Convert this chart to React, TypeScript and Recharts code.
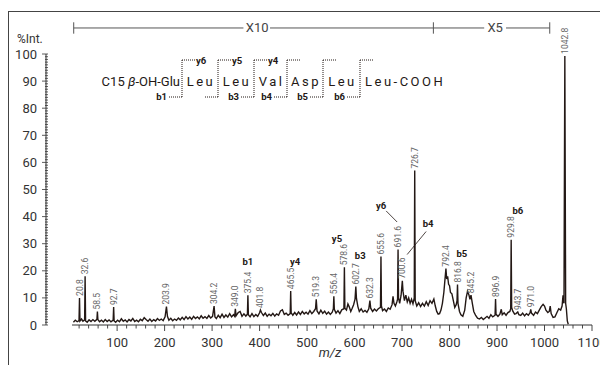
import React from 'react';
import { ComposedChart, Line, Scatter, XAxis, YAxis, ReferenceLine, ReferenceDot } from 'recharts';

const FONT = 'Roboto, "Noto Sans", Arial, sans-serif';
const INK = '#231815';

// spectrum trace, [m/z, %Int.]
const spectrumLow = [
  [8, 1.0], [12, 1.8], [16, 1.2], [19.8, 1.6], [20.8, 10.0], [21.8, 1.5], [25, 2.2], [28, 1.4], [31.6, 1.9],
  [32.6, 18.0], [33.6, 1.5], [37, 1.0], [41, 1.9], [45, 1.3], [49, 2.0], [53, 1.4], [57.5, 2.1], [58.5, 5.0],
  [59.5, 2.0], [63, 1.2], [67, 1.8], [71, 1.1], [75, 2.0], [79, 1.3], [83, 1.9], [87, 1.2], [91.7, 1.8],
  [92.7, 6.6], [93.7, 1.5], [97, 1.0], [101, 1.8], [105, 1.2], [109, 2.3], [113, 1.4], [117, 1.9], [121, 1.1],
  [125, 2.0], [129, 1.5], [133, 2.4], [137, 1.3], [141, 1.8], [145, 1.2], [149, 2.1], [153, 1.6], [157, 2.7],
  [161, 2.0], [165, 1.4], [169, 2.2], [173, 1.3], [177, 2.0], [181, 1.5], [185, 2.4], [189, 1.7], [193, 2.2],
  [197, 1.6], [201, 3.0], [203.9, 6.8], [206, 3.2], [209, 1.8],
];

const spectrumMid = [
  [213, 2.5], [217, 1.6], [221, 2.2], [225, 1.7], [229, 2.6], [233, 1.9], [237, 2.8], [241, 2.0], [245, 3.1],
  [249, 2.2], [253, 2.9], [257, 2.1], [261, 3.2], [265, 2.4], [269, 3.0], [273, 2.3], [277, 3.4], [281, 2.5],
  [285, 3.1], [289, 2.4], [293, 3.5], [297, 2.6], [301, 3.2], [304.2, 7.0], [306, 3.0], [309, 2.4], [313, 3.6],
  [317, 2.7], [321, 4.0], [325, 2.8], [329, 3.7], [333, 2.9], [337, 4.2], [341, 3.0], [345, 3.8], [347.5, 3.2],
  [349, 6.0], [350.5, 3.4], [355, 4.6], [359, 5.0], [363, 3.2], [367, 4.1], [371, 3.3], [374.4, 4.0], [375.4, 11.0],
  [376.4, 3.8], [380, 3.0], [384, 4.2], [388, 3.1], [392, 3.9], [396, 3.2], [400, 4.5], [401.8, 5.5], [404, 4.6],
  [408, 3.5], [412, 4.4], [416, 3.2], [420, 4.0], [424, 3.4], [428, 4.3], [432, 3.3], [436, 4.1], [440, 3.6],
  [444, 5.2], [448, 5.6], [452, 3.9], [456, 4.4], [460, 3.6], [464.5, 4.2], [465.5, 12.5], [466.5, 4.5], [470, 3.6],
  [474, 4.6], [478, 3.7], [482, 4.8], [486, 3.9], [490, 5.0], [494, 4.1], [498, 4.7],
];

const spectrumHigh = [
  [502, 4.0], [506, 5.3], [510, 4.2], [514, 5.0], [517.8, 6.0], [519.3, 9.5], [521, 5.2], [525, 4.1], [529, 5.5],
  [533, 4.3], [537, 5.1], [541, 4.0], [545, 4.8], [549, 3.9], [553, 4.7], [555.4, 6.0], [556.4, 10.6], [557.4, 5.8],
  [561, 4.4], [565, 5.3], [569, 4.2], [573, 5.6], [577.6, 6.0], [578.6, 21.3], [579.6, 6.2], [583, 5.5], [586, 7.8],
  [589, 6.6], [592, 5.0], [595, 6.2], [598, 7.5], [601, 9.5], [602.7, 14.2], [604, 9.8], [607, 6.8], [610, 5.0],
  [614, 6.0], [618, 4.8], [622, 5.4], [626, 4.7], [630, 6.0], [632.3, 9.0], [634, 6.2], [638, 5.0], [642, 5.9],
  [646, 5.2], [650, 6.0], [654.6, 6.5], [655.6, 25.3], [656.6, 7.0], [659, 5.3], [663, 5.9], [667, 5.0], [671, 6.3],
  [675, 5.8], [679, 7.5], [681, 10.6], [683, 8.0], [686, 7.0], [689, 8.5], [690.6, 9.5], [691.6, 27.9], [692.6, 10.0],
  [695, 8.0], [698, 11.0], [700.6, 16.3], [702, 12.5], [705, 9.0], [708, 11.0], [711, 8.5], [714, 10.0], [717, 8.0],
  [720, 9.5], [723, 7.8], [725.7, 10.0], [726.7, 57.0], [727.7, 9.0], [731, 7.0], [735, 8.2], [739, 6.8], [743, 8.0],
  [747, 7.0], [751, 8.6], [755, 7.2], [759, 9.0], [763, 8.0], [767, 9.6], [770, 7.0], [773, 5.0], [776, 4.0],
  [779, 4.2], [782, 5.5], [785, 8.0], [788, 12.0], [790, 16.0], [792.4, 20.8], [794, 17.0], [796, 18.0], [798, 15.0],
];

const spectrumTop = [
  [800, 14.5], [802, 12.0], [805, 11.5], [808, 9.0], [811, 6.5], [814, 7.5], [815.8, 9.0], [816.8, 14.9], [817.8, 8.0],
  [821, 5.0], [824, 3.8], [828, 3.2], [832, 5.5], [835, 10.0], [838, 12.5], [841, 11.0], [843, 9.5], [845.2, 11.0],
  [848, 8.0], [851, 5.0], [855, 3.5], [859, 2.5], [863, 2.2], [867, 2.8], [871, 2.0], [875, 2.6], [879, 3.2],
  [883, 2.5], [887, 3.8], [891, 3.0], [895.9, 3.6], [896.9, 9.6], [897.9, 4.0], [902, 3.2], [906, 4.0], [909, 5.8],
  [911, 3.8], [915, 4.5], [919, 3.6], [923, 4.6], [927, 5.0], [928.8, 6.0], [929.8, 31.5], [930.8, 6.5], [933, 5.2],
  [937, 4.0], [940, 4.2], [943.7, 4.8], [946, 3.8], [950, 3.5], [954, 4.4], [958, 3.4], [962, 4.2], [966, 3.6],
  [969.5, 4.5], [971, 5.8], [972.5, 4.4], [977, 3.6], [981, 4.8], [985, 4.2], [989, 5.5], [993, 6.8], [997, 7.6],
  [1000, 7.0], [1003, 5.5], [1007, 4.6], [1010, 5.0], [1012, 7.0], [1014, 4.2], [1018, 2.8], [1022, 3.0], [1026, 4.5],
  [1030, 6.0], [1034, 5.5], [1037, 7.0], [1039, 11.0], [1041, 8.0], [1042.8, 99.3], [1044.5, 8.0], [1046, 6.0],
  [1048, 1.5], [1050, 0.3],
];

// labelled peaks [m/z, top]
const peaks = [
  [20.8, 10.0], [32.6, 18.0], [58.5, 5.0], [92.7, 6.6], [203.9, 6.8], [304.2, 7.0], [349.0, 6.0], [375.4, 11.0],
  [401.8, 5.5], [465.5, 12.5], [519.3, 9.5], [556.4, 10.6], [578.6, 21.3], [602.7, 14.2], [632.3, 9.0], [655.6, 25.3],
  [691.6, 27.9], [700.6, 16.3], [726.7, 57.0], [792.4, 20.8], [816.8, 14.9], [845.2, 11.0], [896.9, 9.6],
  [929.8, 31.5], [943.7, 4.8], [971.0, 5.8], [1042.8, 99.3],
];

// fragment ion names and where they sit
const ionNames = ['b1', 'y4', 'y5', 'b3', 'y6', 'b4', 'b5', 'b6'];
const ionMz = [375.4, 475, 563, 612, 656, 755, 826, 944];
const ionY = [23.4, 23.5, 31.9, 25.5, 44, 37.6, 26.2, 42.2];

const xTicks = Array.from({ length: 55 }, (_, k) => 20 + k * 20);
const yTicks = Array.from({ length: 101 }, (_, k) => k);

const spectrum = [...spectrumLow, ...spectrumMid, ...spectrumHigh, ...spectrumTop].map(([mz, i]) => ({ mz, i }));
const peakData = peaks.map(([mz, i]) => ({ mz, i }));
const ionData = ionNames.map((name, k) => ({ name, mz: ionMz[k], i: ionY[k] }));

const XTick = ({ x, y, payload }: any) => {
  const major = payload.value % 100 === 0;
  return (
    <g>
      <line x1={x} x2={x} y1={y} y2={y + (major ? 6 : 3.5)} stroke="#333" strokeWidth={0.9} />
      {major && (
        <text x={x} y={y + 22} textAnchor="middle" fontSize={13} fill="#333" fontFamily={FONT}>
          {payload.value}
        </text>
      )}
    </g>
  );
};

const YTick = ({ x, y, payload }: any) => {
  const major = payload.value % 10 === 0;
  return (
    <g>
      <line x1={major ? x - 4 : x - 1} x2={x + 2} y1={y} y2={y} stroke="#333" strokeWidth={0.8} />
      {major && (
        <text x={x - 9} y={y + 4.5} textAnchor="end" fontSize={13} fill="#333" fontFamily={FONT}>
          {payload.value}
        </text>
      )}
    </g>
  );
};

const PeakLabel = (p: any) => (
  <text
    transform={`translate(${p.cx + 3},${p.cy - 2}) rotate(-90)`}
    fontSize={8.5}
    fill="#666"
    fontFamily={FONT}
  >
    {p.payload.mz.toFixed(1)}
  </text>
);

const IonLabel = (p: any) => (
  <text x={p.cx} y={p.cy + 3.5} textAnchor="middle" fontSize={9.5} fontWeight="bold" fill={INK} fontFamily={FONT}>
    {p.payload.name}
  </text>
);

const rangeText = (label: string) => (p: any) => (
  <text x={p.cx} y={p.cy + 4.5} textAnchor="middle" fontSize={13} fill="#444" fontFamily={FONT}>
    {label}
  </text>
);

const Sequence = () => {
  const seps = [182, 218, 254, 287, 323, 360];
  const topIons = ['y6', 'y5', 'y4', '', '', ''];
  const botIons = ['b1', '', 'b3', 'b4', 'b5', 'b6'];
  const residues: [string, number][] = [['Leu', 201], ['Leu', 237], ['Val', 271.5], ['Asp', 306], ['Leu', 342.5]];
  const dot = { stroke: INK, strokeWidth: 1, strokeDasharray: '1 1' };
  return (
    <svg width={600} height={365} style={{ position: 'absolute', left: 0, top: 0, pointerEvents: 'none' }}>
      <text x={17} y={43} fontSize={12} fill="#333" fontFamily={FONT}>%Int.</text>
      <text x={330} y={357} textAnchor="middle" fontSize={13} fontStyle="italic" fill="#333" fontFamily={FONT}>m/z</text>
      <text x={180} y={86} textAnchor="end" fontSize={13} fill={INK} fontFamily={FONT}>
        C15 <tspan fontStyle="italic">β</tspan>-OH-Glu
      </text>
      {residues.map(([r, cx], k) => (
        <text key={k} x={cx} y={86} textAnchor="middle" fontSize={13} letterSpacing={2.5} fill={INK} fontFamily={FONT}>
          {r}
        </text>
      ))}
      <text x={365} y={86} fontSize={13} letterSpacing={2.5} fill={INK} fontFamily={FONT}>Leu-COOH</text>
      {seps.map((sx, k) => (
        <g key={k}>
          <line x1={sx} x2={sx} y1={60} y2={97} {...dot} />
          <line x1={sx} x2={sx + 13} y1={60} y2={60} {...dot} />
          <line x1={sx - 13} x2={sx} y1={97} y2={97} {...dot} />
          {topIons[k] && (
            <text x={sx + 14} y={64} fontSize={9.5} fontWeight="bold" fill={INK} fontFamily={FONT}>{topIons[k]}</text>
          )}
          {botIons[k] && (
            <text x={sx - 15} y={100} textAnchor="end" fontSize={9.5} fontWeight="bold" fill={INK} fontFamily={FONT}>{botIons[k]}</text>
          )}
        </g>
      ))}
    </svg>
  );
};

export default function App() {
  const barY = 109.6;
  return (
    <div style={{ position: 'absolute', left: 0, top: 0, width: 600, height: 365, overflow: 'hidden', background: '#fff' }}>
      <div
        style={{
          position: 'absolute', left: 8, top: 11, width: 620, height: 400,
          borderLeft: '1px solid #444', borderTop: '1px solid #444',
        }}
      />
      <ComposedChart width={600} height={365} data={spectrum} margin={{ top: 54, right: 8, bottom: 10, left: 0 }}>
        <XAxis
          type="number"
          dataKey="mz"
          domain={[5, 1100]}
          ticks={xTicks}
          interval={0}
          padding={{ left: 26, right: 0 }}
          axisLine={false}
          tickLine={false}
          tickSize={0}
          tickMargin={0}
          tick={<XTick />}
          height={30}
        />
        <YAxis
          type="number"
          domain={[0, 100]}
          ticks={yTicks}
          interval={0}
          width={46}
          axisLine={{ stroke: '#333' }}
          tickLine={false}
          tickSize={0}
          tickMargin={0}
          tick={<YTick />}
        />
        <ReferenceLine segment={[{ x: 5, y: 0 }, { x: 1100, y: 0 }]} stroke="#333" ifOverflow="visible" />
        <Line type="linear" dataKey="i" stroke={INK} strokeWidth={1.4} dot={false} isAnimationActive={false} />
        <Scatter data={peakData} dataKey="i" shape={PeakLabel} isAnimationActive={false} />
        <Scatter data={ionData} dataKey="i" shape={IonLabel} isAnimationActive={false} />
        <ReferenceLine segment={[{ x: 666.5, y: 42.1 }, { x: 689.7, y: 38 }]} stroke={INK} strokeWidth={0.8} />
        <ReferenceLine segment={[{ x: 750.7, y: 34.5 }, { x: 710.7, y: 26 }]} stroke={INK} strokeWidth={0.8} />
        {/* magnification ranges */}
        <ReferenceLine segment={[{ x: 8.6, y: barY }, { x: 366, y: barY }]} stroke="#555" ifOverflow="visible" />
        <ReferenceLine segment={[{ x: 422, y: barY }, { x: 873, y: barY }]} stroke="#555" ifOverflow="visible" />
        <ReferenceLine segment={[{ x: 919, y: barY }, { x: 1011, y: barY }]} stroke="#555" ifOverflow="visible" />
        {[8.6, 766, 1011].map((t) => (
          <ReferenceLine key={t} segment={[{ x: t, y: barY - 2.1 }, { x: t, y: barY + 2.1 }]} stroke="#555" ifOverflow="visible" />
        ))}
        <ReferenceDot x={395} y={barY} r={0} ifOverflow="visible" shape={rangeText('X10')} />
        <ReferenceDot x={896} y={barY} r={0} ifOverflow="visible" shape={rangeText('X5')} />
      </ComposedChart>
      <Sequence />
    </div>
  );
}
